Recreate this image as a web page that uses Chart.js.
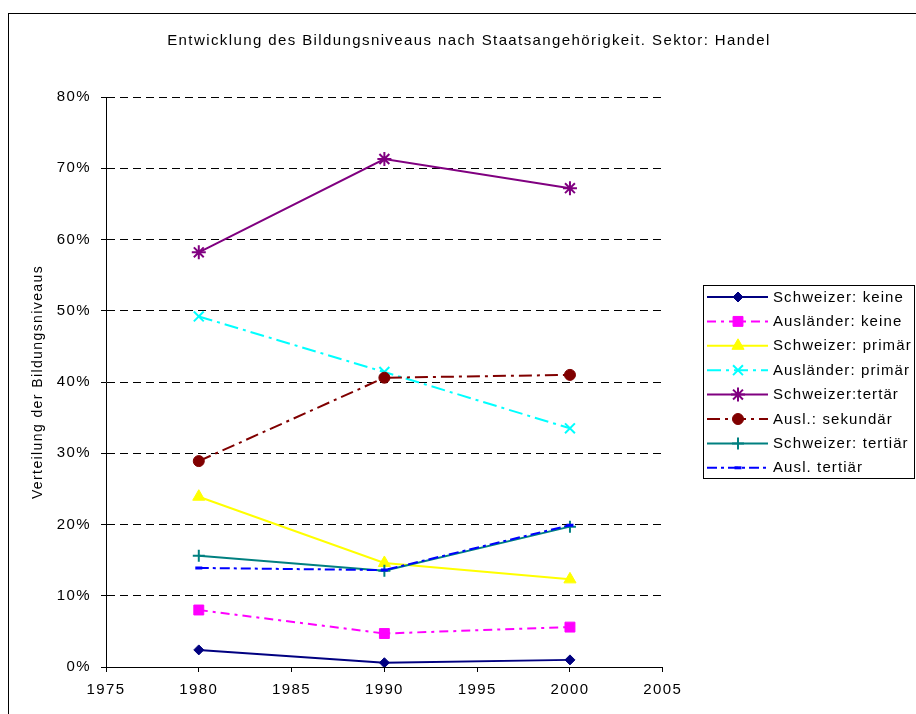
<!DOCTYPE html>
<html>
<head>
<meta charset="utf-8">
<script src="https://cdn.jsdelivr.net/npm/chart.js@4"></script>
<style>
  html, body { margin: 0; padding: 0; background: #fff; }
  #wrap { width: 916px; height: 714px; position: relative; }
</style>
</head>
<body>
<div id="wrap"><canvas id="c" width="916" height="714"></canvas></div>
<script>
// ---- data ----
const years = [1980, 1990, 2000];
const seriesNames = [
  'Schweizer: keine', 'Ausländer: keine', 'Schweizer: primär', 'Ausländer: primär',
  'Schweizer:tertär', 'Ausl.: sekundär', 'Schweizer: tertiär', 'Ausl. tertiär'
];
const schweizerKeine   = [0.024, 0.006, 0.010];
const auslaenderKeine  = [0.080, 0.047, 0.056];
const schweizerPrimaer = [0.239, 0.146, 0.123];
const auslaenderPrimaer= [0.492, 0.414, 0.335];
const schweizerTertaer = [0.582, 0.713, 0.672];
const auslSekundaer    = [0.289, 0.406, 0.410];
const schweizerTertiaer= [0.156, 0.135, 0.197];
const auslTertiaer     = [0.139, 0.136, 0.199];
const xTicks = [1975, 1980, 1985, 1990, 1995, 2000, 2005];
const yTicks = [0, 0.1, 0.2, 0.3, 0.4, 0.5, 0.6, 0.7, 0.8];

const titleText = 'Entwicklung des Bildungsniveaus nach Staatsangehörigkeit. Sektor: Handel';
const yTitleText = 'Verteilung der Bildungsniveaus';

// ---- styles ----
const FONT = '"Liberation Sans", Arial, sans-serif';
const styles = [
  {color:'#000080', dash:[],            pointStyle:'rectRot',  radius:5,   pbw:1},
  {color:'#FF00FF', dash:[9,5,3,5],     pointStyle:'rect',     radius:7,   pbw:1},
  {color:'#FFFF00', dash:[],            pointStyle:'triangle', radius:7,   pbw:1},
  {color:'#00FFFF', dash:[14,5,3,5],    pointStyle:'crossRot', radius:7,   pbw:2},
  {color:'#800080', dash:[],            pointStyle:'star',     radius:7,   pbw:2},
  {color:'#800000', dash:[13,5,3,5],    pointStyle:'circle',   radius:5.5, pbw:1},
  {color:'#008080', dash:[],            pointStyle:'cross',    radius:6,   pbw:2},
  {color:'#0000FF', dash:[10,4,3,4],    pointStyle:'line',     radius:3.5, pbw:3}
];
const seriesValues = [schweizerKeine, auslaenderKeine, schweizerPrimaer, auslaenderPrimaer,
  schweizerTertaer, auslSekundaer, schweizerTertiaer, auslTertiaer];

const datasets = seriesNames.map((name, i) => {
  const s = styles[i];
  return {
    label: name,
    data: years.map((yr, j) => ({x: yr, y: seriesValues[i][j]})),
    borderColor: s.color,
    backgroundColor: s.color,
    borderWidth: 2,
    borderDash: s.dash,
    pointStyle: s.pointStyle,
    pointRadius: s.radius,
    pointHoverRadius: s.radius,
    pointBackgroundColor: s.color,
    pointBorderColor: s.color,
    pointBorderWidth: s.pbw,
    tension: 0,
    fill: false,
    yAxisID: 'y',
    order: seriesNames.length - i
  };
});

const LS = '1.4px';
const spacingPlugin = {
  id: 'spacing',
  beforeLayout(chart) { try { chart.ctx.letterSpacing = LS; } catch(e){} },
  beforeDraw(chart) {
    const ctx = chart.ctx;
    try { ctx.letterSpacing = LS; } catch(e){}
    ctx.save();
    ctx.fillStyle = '#fff';
    ctx.fillRect(0, 0, chart.width, chart.height);
    ctx.strokeStyle = '#000';
    ctx.lineWidth = 1;
    ctx.strokeRect(8.5, 13.5, 1200, 1200);
    ctx.restore();
  }
};

function drawMarker(ctx, s, x, y) {
  const opts = {pointStyle: s.pointStyle, radius: s.radius, rotation: 0, borderWidth: s.pbw};
  ctx.save();
  ctx.setLineDash([]);
  ctx.fillStyle = s.color;
  ctx.strokeStyle = s.color;
  ctx.lineWidth = s.pbw;
  if (Chart.helpers && Chart.helpers.drawPoint) {
    Chart.helpers.drawPoint(ctx, opts, x, y);
  } else {
    ctx.beginPath(); ctx.arc(x, y, s.radius, 0, Math.PI*2); ctx.fill();
  }
  ctx.restore();
}

const legendPlugin = {
  id: 'boxLegend',
  afterDraw(chart) {
    const ctx = chart.ctx;
    const bx = 703.5, by = 285.5, bw = 211, bh = 193;
    ctx.save();
    try { ctx.letterSpacing = '1.1px'; } catch(e){}
    ctx.strokeStyle = '#000';
    ctx.lineWidth = 1;
    ctx.setLineDash([]);
    ctx.strokeRect(bx, by, bw, bh);
    const x0 = 707, x1 = 768, xm = 738, tx = 773;
    const y0 = 297, dy = 24.4;
    ctx.font = '15px ' + FONT;
    ctx.textBaseline = 'middle';
    ctx.textAlign = 'left';
    chart.data.datasets.forEach((ds, i) => {
      const s = styles[i];
      const y = y0 + i * dy;
      ctx.save();
      ctx.strokeStyle = s.color;
      ctx.lineWidth = 2;
      ctx.setLineDash(s.dash);
      ctx.beginPath(); ctx.moveTo(x0, y); ctx.lineTo(x1, y); ctx.stroke();
      ctx.restore();
      drawMarker(ctx, s, xm, y);
      ctx.fillStyle = '#000';
      ctx.fillText(ds.label, tx, y + 0.5);
    });
    ctx.restore();
  }
};

new Chart(document.getElementById('c'), {
  type: 'line',
  data: { datasets },
  plugins: [spacingPlugin, legendPlugin],
  options: {
    responsive: false,
    animation: false,
    devicePixelRatio: 1,
    layout: { padding: { top: 0, left: 22, right: 0, bottom: 0 } },
    plugins: {
      legend: { display: false },
      tooltip: { enabled: false },
      title: {
        display: true,
        text: titleText,
        color: '#000',
        font: { family: FONT, size: 15, weight: 'normal', lineHeight: 1.2 },
        padding: { top: 32, bottom: 47 }
      }
    },
    scales: {
      x: {
        type: 'linear',
        min: 1975, max: 2005,
        afterBuildTicks(scale) { scale.ticks = xTicks.map(v => ({value: v})); },
        afterFit(scale) { scale.height = 47; },
        ticks: { color: '#000', padding: 9, maxRotation: 0,
          font: { family: FONT, size: 15 }, callback: v => String(v) },
        grid: { drawOnChartArea: false, drawTicks: true, tickLength: 5, color: '#000', tickColor: '#000' },
        border: { display: true, color: '#000', width: 1 }
      },
      y: {
        min: 0, max: 0.8,
        afterBuildTicks(scale) { scale.ticks = yTicks.map(v => ({value: v})); },
        afterFit(scale) { scale.width = 84; },
        ticks: { color: '#000', padding: 10,
          font: { family: FONT, size: 15 }, callback: v => Math.round(v * 100) + '%' },
        grid: { drawOnChartArea: true, drawTicks: true, tickLength: 5, color: '#000',
          tickColor: '#000', tickBorderDash: [], lineWidth: 1 },
        border: { display: true, color: '#000', width: 1, dash: [8, 5] },
        title: { display: true, text: yTitleText, color: '#000',
          font: { family: FONT, size: 14 }, padding: { top: 8, bottom: 0 } }
      },
      yRight: {
        position: 'right',
        display: true,
        min: 0, max: 1,
        afterFit(scale) { scale.width = 253.25; },
        ticks: { display: false },
        grid: { display: false, drawTicks: false },
        border: { display: false }
      }
    }
  }
});
</script>
</body>
</html>
